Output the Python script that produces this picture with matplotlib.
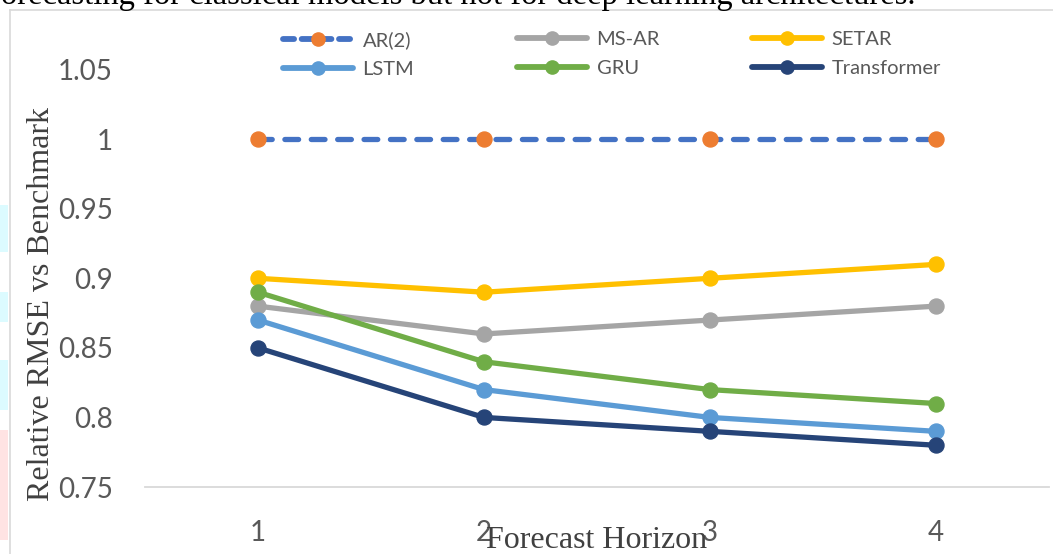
import matplotlib
matplotlib.use("Agg")
import matplotlib.pyplot as plt
from matplotlib.lines import Line2D
from matplotlib.patches import Rectangle

# ---- data ----
horizons = [1, 2, 3, 4]
horizon_labels = ["1", "2", "3", "4"]
ar2 = [1.00, 1.00, 1.00, 1.00]
ms_ar = [0.88, 0.86, 0.87, 0.88]
setar = [0.90, 0.89, 0.90, 0.91]
lstm = [0.87, 0.82, 0.80, 0.79]
gru = [0.89, 0.84, 0.82, 0.81]
transformer = [0.85, 0.80, 0.79, 0.78]
yticks = [0.75, 0.80, 0.85, 0.90, 0.95, 1.00, 1.05]
ytick_labels = ["0.75", "0.8", "0.85", "0.9", "0.95", "1", "1.05"]

W, H = 1053, 554
fig = plt.figure(figsize=(W / 100, H / 100), dpi=100)

def fx(px):
    return px / W

def fy(py):
    return 1 - py / H

# watermark-like patches at the far left edge
for (y0, y1, c) in [(205, 252, "#dcfbff"), (292, 322, "#dcfbff"), (360, 410, "#dcfbff"), (430, 540, "#ffe3e3")]:
    fig.patches.append(Rectangle((0, fy(y1)), fx(8), (y1 - y0) / H, transform=fig.transFigure,
                                 facecolor=c, edgecolor="none", zorder=0))

# chart border (top and left visible)
fig.add_artist(Line2D([fx(10), 1.0], [fy(10), fy(10)], color="#d9d9d9", lw=1.2, transform=fig.transFigure))
fig.add_artist(Line2D([fx(10), fx(10)], [fy(10), 0.0], color="#d9d9d9", lw=1.2, transform=fig.transFigure))

# cut-off caption text at the top
fig.text(fx(-10), fy(4), "forecasting for classical models but not for deep learning architectures.",
         family="Liberation Serif", fontsize=23.5, color="black", va="baseline", ha="left")

ax_left, ax_right = 145, 1049
ax_top, ax_bottom = 69.6, 487
ax = fig.add_axes([fx(ax_left), fy(ax_bottom), (ax_right - ax_left) / W, (ax_bottom - ax_top) / H])
ax.set_facecolor("none")

series = [
    ("AR(2)", ar2, "#4472C4", "#ED7D31", "--"),
    ("MS-AR", ms_ar, "#A5A5A5", "#A5A5A5", "-"),
    ("SETAR", setar, "#FFC000", "#FFC000", "-"),
    ("LSTM", lstm, "#5B9BD5", "#5B9BD5", "-"),
    ("GRU", gru, "#70AD47", "#70AD47", "-"),
    ("Transformer", transformer, "#264478", "#264478", "-"),
]

handles = []
for name, vals, lc, mc, ls in series:
    ln, = ax.plot(horizons, vals, color=lc, lw=3.8, ls=ls, marker="o", markersize=10.8,
                  markerfacecolor=mc, markeredgecolor=mc, solid_capstyle="round",
                  dash_capstyle="round", clip_on=False)
    if ls == "--":
        ln.set_dashes((2.6, 2.4))
    h = Line2D([], [], color=lc, lw=4.2, ls=ls, marker="o", markersize=9.5,
               markerfacecolor=mc, markeredgecolor=mc, solid_capstyle="round", dash_capstyle="round")
    if ls == "--":
        h.set_dashes((1.9, 1.3))
    handles.append((h, name))

ax.set_xlim(0.5, 4.5)
ax.set_ylim(0.75, 1.05)
ax.set_xticks(horizons)
ax.set_xticklabels(horizon_labels)
ax.set_yticks(yticks)
ax.set_yticklabels(ytick_labels)
ax.tick_params(axis="both", length=0, labelsize=20, labelcolor="#595959")
ax.tick_params(axis="y", pad=23)
ax.tick_params(axis="x", pad=24)
for lab in ax.get_xticklabels() + ax.get_yticklabels():
    lab.set_family("Lato")
for s in ["top", "right", "left"]:
    ax.spines[s].set_visible(False)
ax.spines["bottom"].set_color("#d9d9d9")
ax.spines["bottom"].set_linewidth(1.3)

# axis titles
fig.text(fx(42), fy(304), "Relative RMSE vs Benchmark", rotation=90, family="Liberation Serif",
         fontsize=23, color="#404040", ha="center", va="center")
fig.text(fx(597), fy(540), "Forecast Horizon", family="Liberation Serif",
         fontsize=23, color="#404040", ha="center", va="center")

# legend: three columns of two entries
col_x = [283, 517, 752]
for c in range(3):
    hs = [handles[c][0], handles[c + 3][0]]
    ls_ = [handles[c][1], handles[c + 3][1]]
    leg = fig.legend(hs, ls_, loc="upper left", bbox_to_anchor=(fx(col_x[c]), fy(31)),
                     frameon=False, borderpad=0, borderaxespad=0, handlelength=3.5,
                     handletextpad=0.45, labelspacing=0.6, numpoints=1,
                     prop={"family": "Lato", "size": 14.5})
    for t in leg.get_texts():
        t.set_color("#595959")

fig.savefig("out.png", dpi=100)
